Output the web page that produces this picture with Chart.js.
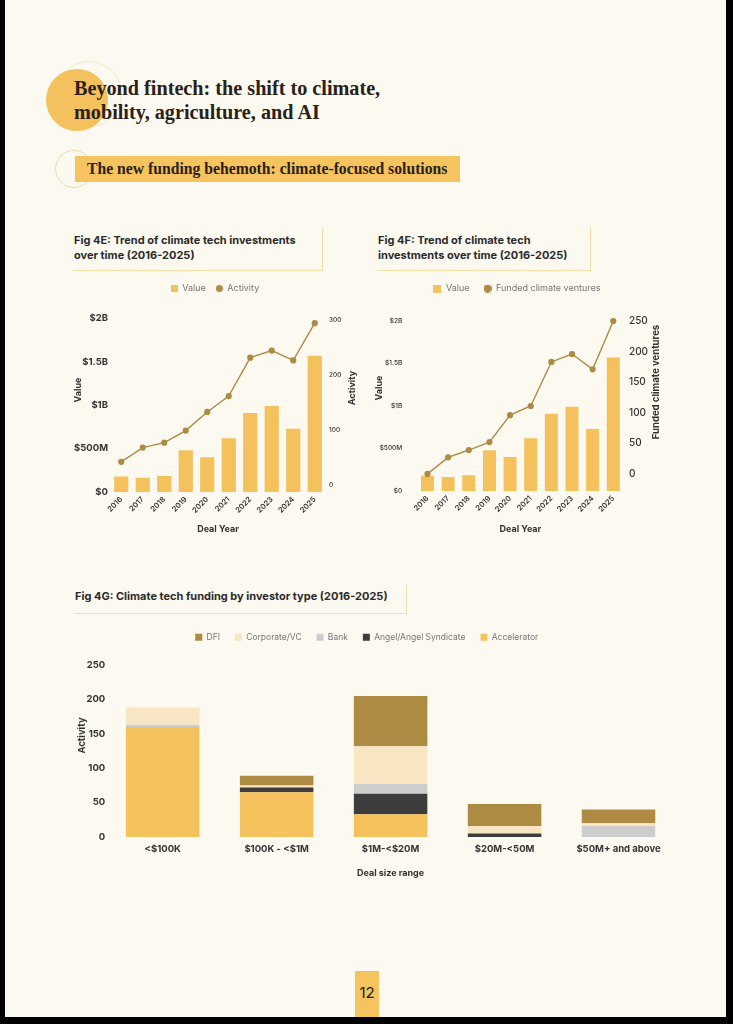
<!DOCTYPE html>
<html>
<head>
<meta charset="utf-8">
<script src="https://cdn.jsdelivr.net/npm/chart.js@4.4.1/dist/chart.umd.min.js"></script>
<style>
  html, body { margin: 0; padding: 0; background: #000; }
  body { width: 733px; height: 1024px; position: relative; overflow: hidden; font-family: Inter, sans-serif; }
  .abs { position: absolute; }
  .page { left: 5px; top: 0; width: 721px; height: 1017px; background: #fcf9f1; }
  .heading { left: 74px; top: 76px; font: 700 20.2px/24px "Liberation Serif", serif; color: #2a2118; white-space: nowrap; }
  .band { left: 75px; top: 156px; width: 385px; height: 26px; background: #f5c45e; }
  .bandText { left: 87px; top: 156px; font: 700 15.7px/26px "Liberation Serif", serif; color: #2a2118; white-space: nowrap; }
  .figbox { border-right: 1.5px solid #f1dfa9; border-bottom: 1.5px solid #f1dfa9; box-sizing: border-box; }
  .figtitle { font: 700 11px/14.5px Inter, sans-serif; color: #2b2b2b; white-space: nowrap; }
  canvas { position: absolute; }
  .pageno { left: 355px; top: 971px; width: 24px; height: 46px; background: #f5c45e; font: 400 15px/44px Inter, sans-serif; color: #222; text-align: center; }
</style>
</head>
<body>
<div class="abs page"></div>

<div class="abs" style="left:56px;top:61px;width:64px;height:64px;border-radius:50%;border:1.5px solid rgba(236,214,160,0.5);"></div>
<div class="abs" style="left:45.5px;top:68.5px;width:62px;height:62px;border-radius:50%;background:#f3c25e;"></div>
<div class="abs heading">Beyond fintech: the shift to climate,<br>mobility, agriculture, and AI</div>

<div class="abs" style="left:55px;top:150px;width:38px;height:38px;border-radius:50%;border:1.5px solid #f0dba4;box-sizing:border-box;"></div>
<div class="abs band"></div>
<div class="abs bandText">The new funding behemoth: climate-focused solutions</div>

<div class="abs figbox" style="left:73px;top:227px;width:250px;height:44px;"></div>
<div class="abs figtitle" style="left:74px;top:233px;">Fig 4E: Trend of climate tech investments<br>over time (2016-2025)</div>

<div class="abs figbox" style="left:377px;top:227px;width:214px;height:44px;"></div>
<div class="abs figtitle" style="left:378px;top:233px;">Fig 4F: Trend of climate tech<br>investments over time (2016-2025)</div>

<div class="abs figbox" style="left:74px;top:585px;width:333px;height:29px;"></div>
<div class="abs figtitle" style="left:75px;top:589px;">Fig 4G: Climate tech funding by investor type (2016-2025)</div>

<canvas id="fig4e" width="290" height="262" style="left:70px;top:274px;"></canvas>
<canvas id="fig4f" width="290" height="266" style="left:372px;top:270px;"></canvas>
<canvas id="fig4g" width="610" height="262" style="left:72px;top:618px;"></canvas>

<div class="abs pageno">12</div>

<script>
const years = ['2016', '2017', '2018', '2019', '2020', '2021', '2022', '2023', '2024', '2025'];
const dealValueM = [180, 165, 185, 480, 400, 620, 910, 990, 730, 1570];
const activityCount = [42, 68, 77, 99, 133, 162, 232, 245, 227, 295];
const fundedVentures = [0, 27, 39, 52, 96, 111, 183, 196, 171, 250];

const valueTicksM = [0, 500, 1000, 1500, 2000];
const valueTickLabels = ['$0', '$500M', '$1B', '$1.5B', '$2B'];
const activityTicks = [0, 100, 200, 300];
const ventureTicks = [0, 50, 100, 150, 200, 250];

const dealSizes = ['<$100K', '$100K - <$1M', '$1M-<$20M', '$20M-<50M', '$50M+ and above'];
const accelerator = [160, 65, 33, 0, 0];
const angel = [0, 7, 30, 5, 0];
const bank = [3, 0, 14, 0, 16];
const corporateVC = [25, 3, 55, 11, 4];
const dfi = [0, 14, 73, 32, 20];
const fundingTicks = [0, 50, 100, 150, 200, 250];

const GOLD = '#f4c15d';
const BROWN = '#ad8b45';
const INK = '#333333';

Chart.defaults.font.family = 'Inter, sans-serif';
Chart.defaults.color = INK;
Chart.defaults.animation = false;

// fixed-size helpers so the plot areas land where they should
const fixWidth = w => scale => { scale.width = w; };
const fixHeight = h => scale => { scale.height = h; };
const useTicks = values => scale => { scale.ticks = values.map(v => ({ value: v })); };
function legendHeight(h, dx = 0) {
  return {
    id: 'legendHeight',
    beforeInit(chart) {
      const fit = chart.legend.fit;
      chart.legend.fit = function () { fit.bind(chart.legend)(); this.height = h; };
    },
    afterLayout(chart) {
      chart.legend.left += dx;
      chart.legend.right += dx;
    }
  };
}
// vertical axis titles, all reading bottom-to-top like the original
function sideTitles(list) {
  return {
    id: 'sideTitles',
    afterDraw(chart) {
      const ctx = chart.ctx;
      list.forEach(t => {
        ctx.save();
        ctx.translate(t.x, t.y);
        ctx.rotate(-Math.PI / 2);
        ctx.font = `700 ${t.size}px Inter, sans-serif`;
        ctx.fillStyle = INK;
        ctx.textAlign = 'center';
        ctx.textBaseline = 'middle';
        ctx.fillText(t.text, 0, 0);
        ctx.restore();
      });
    }
  };
}
const noGrid = { display: false, drawTicks: false };

// small legend markers (square for bars, dot for the line)
function marker(shape, size, color) {
  const c = document.createElement('canvas');
  c.width = size; c.height = size;
  const g = c.getContext('2d');
  g.fillStyle = color;
  if (shape === 'circle') { g.beginPath(); g.arc(size / 2, size / 2, size / 2, 0, Math.PI * 2); g.fill(); }
  else g.fillRect(0, 0, size, size);
  return c;
}
const mixedLabels = size => chart => {
  const items = Chart.defaults.plugins.legend.labels.generateLabels(chart);
  items.forEach(it => {
    const isLine = chart.data.datasets[it.datasetIndex].type === 'line';
    it.pointStyle = isLine ? marker('circle', size, BROWN) : marker('rect', size, GOLD);
  });
  return items;
};

function trendChart(id, opts) {
  return new Chart(document.getElementById(id), {
    type: 'bar',
    data: {
      labels: years,
      datasets: [
        {
          type: 'line', label: opts.lineLabel, data: opts.lineData, yAxisID: 'y1',
          borderColor: BROWN, backgroundColor: BROWN, borderWidth: 1.4,
          pointRadius: 2.4, pointHoverRadius: 2.4, tension: 0, clip: false
        },
        {
          type: 'bar', label: 'Value', data: dealValueM, yAxisID: 'y',
          backgroundColor: GOLD, categoryPercentage: 1, barPercentage: opts.barPct
        }
      ]
    },
    options: {
      responsive: false,
      layout: { padding: 0 },
      plugins: {
        tooltip: { enabled: false },
        legend: {
          reverse: true,
          labels: {
            usePointStyle: true, boxWidth: opts.box, boxHeight: opts.box,
            padding: opts.legendPad, color: '#777', font: { size: 9 },
            generateLabels: mixedLabels(opts.box)
          }
        }
      },
      scales: {
        x: {
          grid: noGrid, border: { display: false },
          ticks: { minRotation: 45, maxRotation: 45, padding: 3, font: { size: 7.5, weight: '600' }, color: INK },
          title: { display: true, text: 'Deal Year', font: { size: 9, weight: '700' }, padding: { top: 0, bottom: 1.5 } },
          afterFit: fixHeight(opts.xHeight)
        },
        y: {
          position: 'left', min: 0, max: 2000,
          grid: noGrid, border: { display: false },
          afterBuildTicks: useTicks(valueTicksM),
          ticks: { padding: opts.leftPad, font: opts.leftFont, color: INK,
                   callback: v => valueTickLabels[valueTicksM.indexOf(v)] },
          afterFit: fixWidth(opts.leftWidth)
        },
        y1: {
          position: 'right', min: opts.rightMin, max: opts.rightMax,
          grid: noGrid, border: { display: false },
          afterBuildTicks: useTicks(opts.rightTicks),
          ticks: { padding: opts.rightPad, font: opts.rightFont, color: INK },
          afterFit: fixWidth(opts.rightWidth)
        }
      }
    },
    plugins: [legendHeight(opts.legendH), sideTitles(opts.titles)]
  });
}

trendChart('fig4e', {
  lineLabel: 'Activity', lineData: activityCount, barPct: 0.66,
  box: 7, legendPad: 10, legendH: 44.5, xHeight: 44,
  leftWidth: 40.5, leftPad: 2.5, leftFont: { size: 9.5, weight: '700' },
  rightWidth: 34.5, rightPad: 3.5, rightFont: { size: 6.5, weight: '500' },
  rightMin: -13, rightMax: 303.5, rightTicks: activityTicks,
  titles: [
    { text: 'Value', x: 8, y: 116, size: 9 },
    { text: 'Activity', x: 282, y: 114, size: 9 }
  ]
});

trendChart('fig4f', {
  lineLabel: 'Funded climate ventures', lineData: fundedVentures, barPct: 0.63,
  box: 8, legendPad: 14, legendH: 51, xHeight: 45,
  leftWidth: 45.2, leftPad: 15, leftFont: { size: 6.5, weight: '500' },
  rightWidth: 38.4, rightPad: 5.4, rightFont: { size: 10, weight: '500' },
  rightMin: -28, rightMax: 250, rightTicks: ventureTicks,
  titles: [
    { text: 'Value', x: 7, y: 118, size: 9 },
    { text: 'Funded climate ventures', x: 284, y: 112, size: 9.5 }
  ]
});

new Chart(document.getElementById('fig4g'), {
  type: 'bar',
  data: {
    labels: dealSizes,
    datasets: [
      { label: 'Accelerator', data: accelerator, backgroundColor: '#f4c15d' },
      { label: 'Angel/Angel Syndicate', data: angel, backgroundColor: '#3d3d3d' },
      { label: 'Bank', data: bank, backgroundColor: '#cdcdcd' },
      { label: 'Corporate/VC', data: corporateVC, backgroundColor: '#f7e6c1' },
      { label: 'DFI', data: dfi, backgroundColor: '#ad8b42' }
    ]
  },
  options: {
    responsive: false,
    layout: { padding: { right: 6.5 } },
    datasets: { bar: { categoryPercentage: 1, barPercentage: 0.645 } },
    plugins: {
      tooltip: { enabled: false },
      legend: {
        reverse: true,
        labels: { boxWidth: 7, boxHeight: 7, padding: 15, color: '#777', font: { size: 8.5 } }
      }
    },
    scales: {
      x: {
        stacked: true, grid: noGrid, border: { display: false },
        ticks: { padding: 6.5, font: { size: 9.5, weight: '700' }, color: INK },
        title: { display: true, text: 'Deal size range', font: { size: 9, weight: '700' }, padding: { top: 0, bottom: 1.6 } },
        afterFit: fixHeight(43)
      },
      y: {
        stacked: true, min: 0, max: 250,
        grid: noGrid, border: { display: false },
        afterBuildTicks: useTicks(fundingTicks),
        ticks: { padding: 0.5, font: { size: 9.5, weight: '700' }, color: INK },
        afterFit: fixWidth(33.7)
      }
    }
  },
  plugins: [legendHeight(47, -7), sideTitles([{ text: 'Activity', x: 10, y: 117.5, size: 9.5 }])]
});
</script>
</body>
</html>
